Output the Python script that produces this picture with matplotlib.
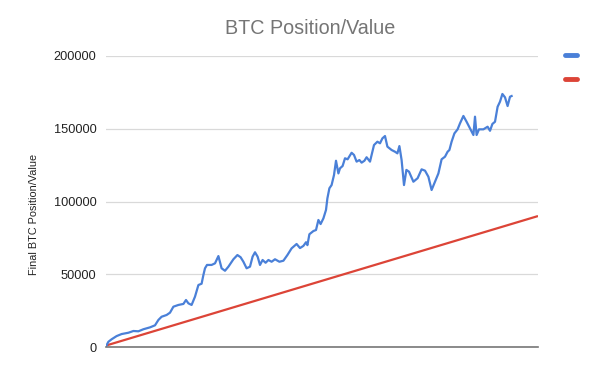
import matplotlib
matplotlib.use("Agg")
import matplotlib.pyplot as plt
from matplotlib.lines import Line2D

plt.rcParams['font.family'] = ['Liberation Sans', 'DejaVu Sans']

# Period index (x) and final BTC position value for the blue series
blue_x = [0, 1.2, 2.8, 5.3, 7.8, 11.2, 13.7, 16.2, 18.7, 22, 24.5, 26.2, 27.8, 30.3, 32,
          33.7, 36.2, 38.7, 40, 41.2, 42.8, 44.5, 46.2, 47.8, 48.7, 49.5, 50.5, 52.8, 54.5,
          56.2, 57.8, 59.5, 61.2, 63.7, 65.7, 67.3, 68.7, 70.3, 72, 73.3, 74.5, 75.8, 77,
          78.3, 79.8, 81.2, 82.8, 84.5, 86.7, 88.7, 90.7, 92.8, 95.3, 97, 98.7, 100, 100.7,
          101.7, 103.7, 105, 106.2, 107.3, 108.7, 110, 110.7, 111.7, 112.8, 114, 115, 116.2,
          117, 118.3, 119.5, 120.8, 122.8, 124, 125.3, 126.7, 127.8, 129.2, 130.3, 132, 134,
          135.7, 137, 138.2, 139.5, 140.7, 142.8, 144.5, 145.7, 146.7, 147.8, 149, 150.2,
          151.5, 153.7, 155.8, 157.8, 159.5, 161.2, 162.8, 164.5, 166.2, 167.8, 169.5, 170.8,
          171.7, 172.8, 174.2, 175.8, 177, 178.7, 180.3, 182, 183.7, 184.5, 185.3, 186.5,
          188.7, 190.8, 192, 193.2, 194.5, 195.8, 197, 198.2, 199.5, 200.8, 202, 202.8]
blue_y = [500, 3600, 5300, 7500, 8900, 9800, 11000, 10800, 12200, 13500, 14900, 18600, 20800,
          22000, 23600, 27700, 28900, 29600, 32300, 30000, 28900, 34600, 42600, 43500, 49500,
          54100, 56400, 56400, 57500, 62500, 54100, 52400, 55200, 60300, 63200, 61700, 58600,
          54100, 55200, 62100, 65100, 62100, 56400, 59800, 57900, 59800, 58600, 60300, 58600,
          59300, 63200, 67800, 70800, 68000, 69500, 72000, 70000, 77500, 79700, 80400, 87300,
          84500, 88400, 94200, 102200, 109100, 111300, 118200, 128000, 119300, 122800, 124400,
          129700, 129000, 133500, 132000, 127400, 128500, 126700, 128000, 130400, 127400,
          138800, 141100, 140000, 143400, 145000, 137700, 135400, 134200, 133100, 138100,
          128500, 111300, 121700, 120500, 113600, 116000, 122100, 121200, 117000, 107900,
          113600, 119300, 129000, 130800, 134200, 135400, 141100, 146800, 149600, 153700,
          158800, 154800, 150300, 145700, 158300, 145700, 149600, 149600, 151400, 148600,
          153300, 154800, 165100, 168600, 173900, 171600, 165600, 172000, 172500]

# Red series (straight line of invested amount)
red_x = [0, 216]
red_y = [1000, 90000]

y_ticks = [0, 50000, 100000, 150000, 200000]

BLUE = '#4a80d8'
RED = '#dc4437'

fig = plt.figure(figsize=(6.16, 3.83), dpi=100)
ax = fig.add_axes([106/616, 1 - 347/383, (538-106)/616, (347-56)/383])

ax.plot(red_x, red_y, color=RED, lw=1.6, solid_capstyle='butt', zorder=3)
ax.plot(blue_x, blue_y, color=BLUE, lw=1.6, solid_joinstyle='round', zorder=4)

ax.set_xlim(0, 216)
ax.set_ylim(0, 200000)
ax.set_yticks(y_ticks)
ax.set_yticklabels([str(v) for v in y_ticks])
ax.set_xticks([])
ax.tick_params(axis='y', length=0, pad=7, labelsize=9.2, labelcolor='#222222')
ax.grid(axis='y', color='#d9d9d9', lw=0.9)
ax.set_axisbelow(True)
for s in ['top', 'right', 'left']:
    ax.spines[s].set_visible(False)
ax.spines['bottom'].set_color('#777777')
ax.spines['bottom'].set_linewidth(1.2)
ax.spines['bottom'].set_zorder(5)

ax.set_ylabel('Final BTC Position/Value', fontsize=7.8, color='#222222')
ax.yaxis.set_label_coords(-0.155, 0.457)

fig.text(0.503, 1 - 28/383, 'BTC Position/Value', ha='center', va='center',
         fontsize=14.2, color='#757575')

handles = [Line2D([], [], color=BLUE, lw=3.5, solid_capstyle='round'),
           Line2D([], [], color=RED, lw=3.5, solid_capstyle='round')]
fig.legend(handles, ['', ''], loc='center', bbox_to_anchor=(571/616, 1 - 68/383),
           frameon=False, handlelength=0.8, labelspacing=0.75, handletextpad=0)

fig.savefig('out.png', dpi=100)
